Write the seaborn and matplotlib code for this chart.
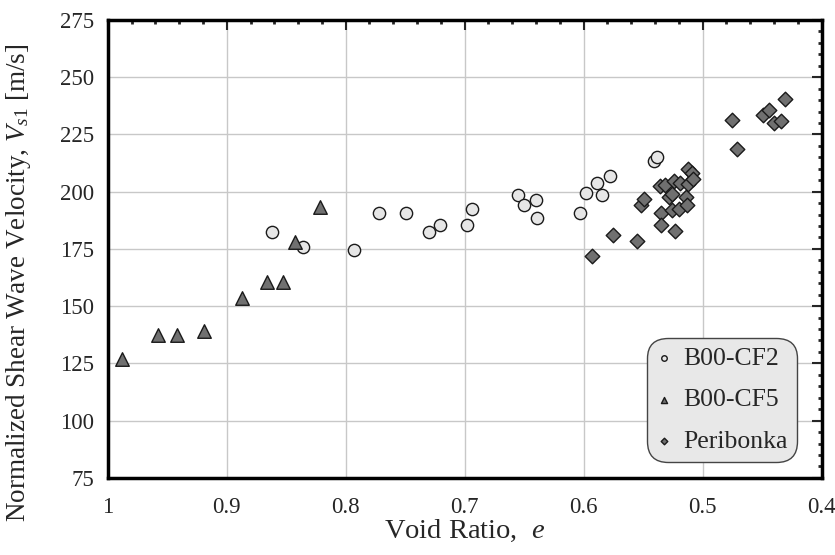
import numpy as np
import pandas as pd
import matplotlib
matplotlib.use("Agg")
import matplotlib.pyplot as plt
from matplotlib.ticker import MultipleLocator
import seaborn as sns

# B00-CF2 (circles)
cf2_e = [0.862, 0.836, 0.793, 0.772, 0.749, 0.730, 0.721, 0.698, 0.694, 0.655,
         0.650, 0.640, 0.639, 0.603, 0.598, 0.589, 0.585, 0.578, 0.541, 0.538]
cf2_v = [182.5, 176.0, 174.5, 190.5, 190.5, 182.5, 185.5, 185.5, 192.5, 198.5,
         194.0, 196.5, 188.5, 190.5, 199.5, 204.0, 198.5, 207.0, 213.5, 215.0]

# B00-CF5 (triangles)
cf5_e = [0.988, 0.958, 0.942, 0.919, 0.887, 0.866, 0.853, 0.843, 0.822]
cf5_v = [127.0, 137.5, 137.5, 139.0, 153.5, 160.5, 160.5, 178.0, 193.5]

# Peribonka (diamonds)
per_e = [0.593, 0.575, 0.555, 0.552, 0.549, 0.535, 0.535, 0.536, 0.532, 0.528,
         0.526, 0.526, 0.523, 0.524, 0.520, 0.519, 0.514, 0.513, 0.512, 0.512,
         0.509, 0.508, 0.475, 0.471, 0.449, 0.444, 0.440, 0.434, 0.431]
per_v = [172.0, 181.0, 178.5, 194.0, 197.0, 190.5, 185.5, 202.5, 203.0, 197.5,
         199.0, 192.0, 183.0, 204.5, 192.5, 204.0, 197.5, 194.0, 203.5, 210.0,
         208.0, 205.5, 231.5, 218.5, 233.5, 235.5, 230.0, 231.0, 240.5]

x_ticks = [1.0, 0.9, 0.8, 0.7, 0.6, 0.5, 0.4]
x_labels = ["1", "0.9", "0.8", "0.7", "0.6", "0.5", "0.4"]

sns.set_style("white")
plt.rcParams["font.family"] = ["Liberation Serif", "DejaVu Serif"]
plt.rcParams["mathtext.fontset"] = "custom"
plt.rcParams["mathtext.rm"] = "Liberation Serif"
plt.rcParams["mathtext.it"] = "Liberation Serif:italic"

fig = plt.figure(figsize=(8.35, 5.55), dpi=100)
ax = fig.add_axes([0.129, 0.139, 0.855, 0.825])

sns.scatterplot(x=cf2_e, y=cf2_v, ax=ax, marker="o", s=78, color="#e6e6e6",
                edgecolor="#1a1a1a", linewidth=1.0, label="B00-CF2", zorder=3)
sns.scatterplot(x=cf5_e, y=cf5_v, ax=ax, marker="^", s=95, color="#707070",
                edgecolor="#1a1a1a", linewidth=1.0, label="B00-CF5", zorder=3)
sns.scatterplot(x=per_e, y=per_v, ax=ax, marker="D", s=55, color="#707070",
                edgecolor="#1a1a1a", linewidth=1.0, label="Peribonka", zorder=3)

ax.set_xlim(1.0, 0.4)
ax.set_ylim(75, 275)
ax.set_xticks(x_ticks)
ax.set_xticklabels(x_labels)
ax.xaxis.set_minor_locator(MultipleLocator(0.02))
ax.yaxis.set_major_locator(MultipleLocator(25))
ax.yaxis.set_minor_locator(MultipleLocator(5))

ax.grid(True, which="major", color="#c8c8c8", linewidth=1.0, zorder=0)
ax.set_axisbelow(True)
for sp in ax.spines.values():
    sp.set_linewidth(2.5)
    sp.set_color("black")
ax.tick_params(which="major", direction="in", length=7, width=1.5,
               top=True, right=True, labelsize=16.5)
ax.tick_params(axis="y", which="major", pad=10)
ax.tick_params(axis="x", which="major", pad=14)
ax.tick_params(which="minor", direction="in", length=3, width=2,
               top=True, right=True)

ax.set_xlabel("Void Ratio,  $e$", fontsize=20.5, labelpad=0)
ax.set_ylabel("Normalized Shear Wave Velocity, $V_{\\mathit{s1}}$ [m/s]", fontsize=19.5)
ax.yaxis.set_label_coords(-0.104, 0.425)

leg = ax.legend(loc="lower right", bbox_to_anchor=(0.965, 0.035), fontsize=18.5,
                markerscale=0.45, labelspacing=0.72, handletextpad=0.45,
                handlelength=0.6, borderpad=0.15, borderaxespad=0.2,
                fancybox=True, frameon=True)
leg.get_frame().set_facecolor("#e8e8e8")
leg.get_frame().set_edgecolor("#444444")
leg.get_frame().set_alpha(1.0)
leg.get_frame().set_boxstyle("round,pad=0.2,rounding_size=0.8")

fig.savefig("out.png", dpi=100)
